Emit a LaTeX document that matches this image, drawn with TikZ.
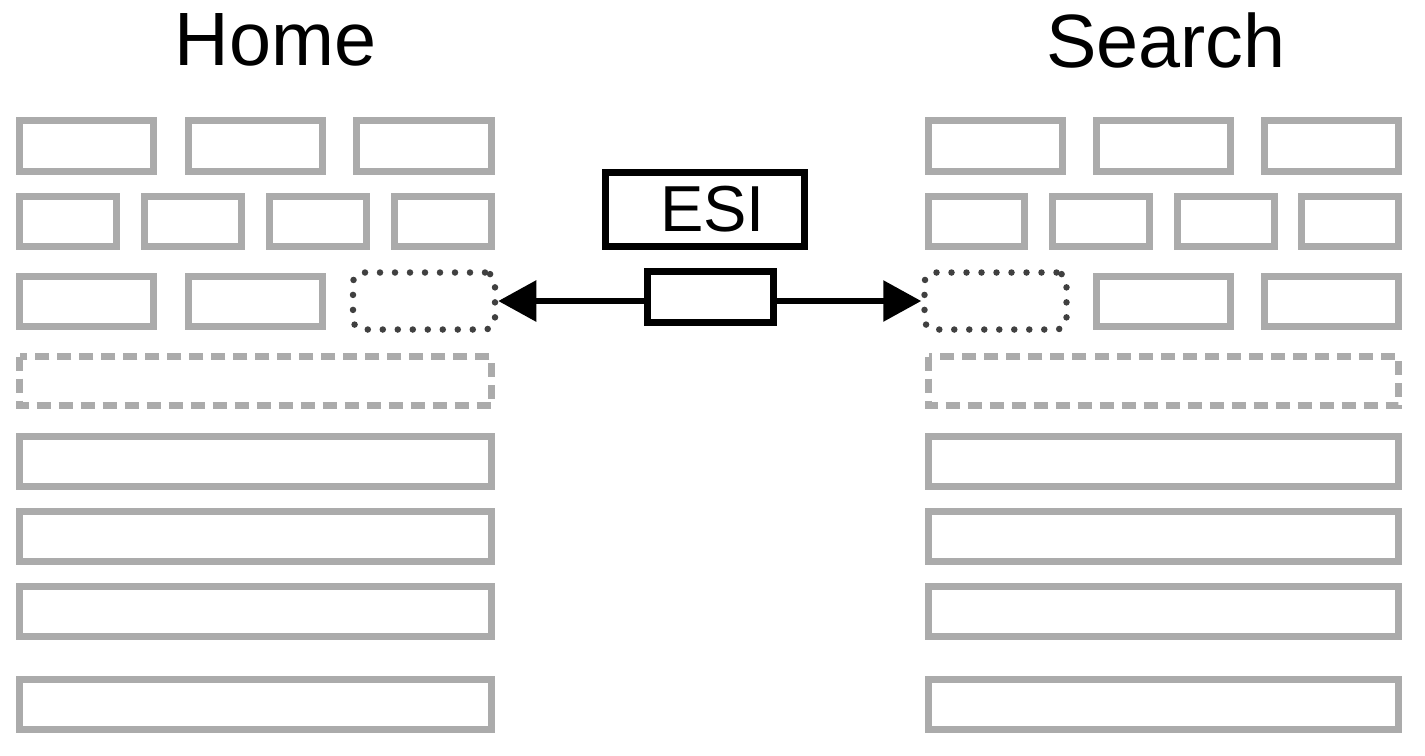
\documentclass[tikz,border=0pt]{standalone}
\usepackage{fontspec}
\setmainfont{Liberation Sans}
\usetikzlibrary{arrows.meta}
\definecolor{cellgray}{RGB}{171,171,171}
\definecolor{dotgray}{RGB}{64,64,64}

\begin{document}
\begin{tikzpicture}[
		cell/.style={draw=cellgray, line width=2pt},
		gap/.style={cell, dash pattern=on 0.14cm off 0.08cm},
		holder/.style={draw=dotgray, line width=1.85pt, line cap=round, dash pattern=on 0pt off 0.15cm, rounded corners=0.1cm, minimum width=1.42cm, minimum height=0.57cm, inner sep=0pt},
		esibox/.style={draw=black, line width=2pt, inner sep=0pt},
		link/.style={line width=1.7pt, -{Triangle[length=0.38cm, width=0.4cm]}}
	]
		\useasboundingbox (0, 0) rectangle (14.25, -7.55);
		
		\node at (2.755, -0.65) [anchor=base] (home) {\fontsize{21.5}{24}\selectfont Home};
		\node at (11.66, -0.67) [anchor=base] (search) {\fontsize{21.5}{24}\selectfont Search};
		
		% Home
		\draw[cell] (0.195, -1.205) rectangle (1.535, -1.715) (1.885, -1.205) rectangle (3.225, -1.715) (3.565, -1.205) rectangle (4.915, -1.715);
		\draw[cell] (0.195, -1.965) rectangle (1.165, -2.465) (1.445, -1.965) rectangle (2.415, -2.465) (2.695, -1.965) rectangle (3.665, -2.465) (3.945, -1.965) rectangle (4.915, -2.465);
		\draw[cell] (0.195, -2.765) rectangle (1.535, -3.265) (1.885, -2.765) rectangle (3.225, -3.265);
		\node at (4.24, -3.01) [holder] (slotL) {};
		\draw[gap] (0.195, -3.565) rectangle (4.915, -4.055);
		\draw[cell] (0.195, -4.365) rectangle (4.915, -4.865);
		\draw[cell] (0.195, -5.115) rectangle (4.915, -5.615);
		\draw[cell] (0.195, -5.865) rectangle (4.915, -6.365);
		\draw[cell] (0.195, -6.795) rectangle (4.915, -7.295);
		
		% Search
		\draw[cell] (9.285, -1.205) rectangle (10.625, -1.715) (10.965, -1.205) rectangle (12.305, -1.715) (12.645, -1.205) rectangle (13.985, -1.715);
		\draw[cell] (9.285, -1.965) rectangle (10.245, -2.465) (10.525, -1.965) rectangle (11.495, -2.465) (11.775, -1.965) rectangle (12.745, -2.465) (13.015, -1.965) rectangle (13.985, -2.465);
		\node at (9.955, -3.01) [holder] (slotR) {};
		\draw[cell] (10.965, -2.765) rectangle (12.305, -3.265) (12.645, -2.765) rectangle (13.985, -3.265);
		\draw[gap] (9.285, -3.565) rectangle (13.985, -4.055);
		\draw[cell] (9.285, -4.365) rectangle (13.985, -4.865);
		\draw[cell] (9.285, -5.115) rectangle (13.985, -5.615);
		\draw[cell] (9.285, -5.865) rectangle (13.985, -6.365);
		\draw[cell] (9.285, -6.795) rectangle (13.985, -7.295);
		
		\node at (7.05, -2.095) [esibox, minimum width=1.99cm, minimum height=0.74cm] (esi) {\fontsize{18.5}{20}\selectfont\hspace*{0.15cm}ESI};
		\node at (7.105, -2.97) [esibox, minimum width=1.26cm, minimum height=0.51cm, fill=white] (frag) {};
		\draw[link] (frag.west |- slotL) -- (slotL);
		\draw[link] (frag.east |- slotR) -- (slotR);
	\end{tikzpicture}
\end{document}
